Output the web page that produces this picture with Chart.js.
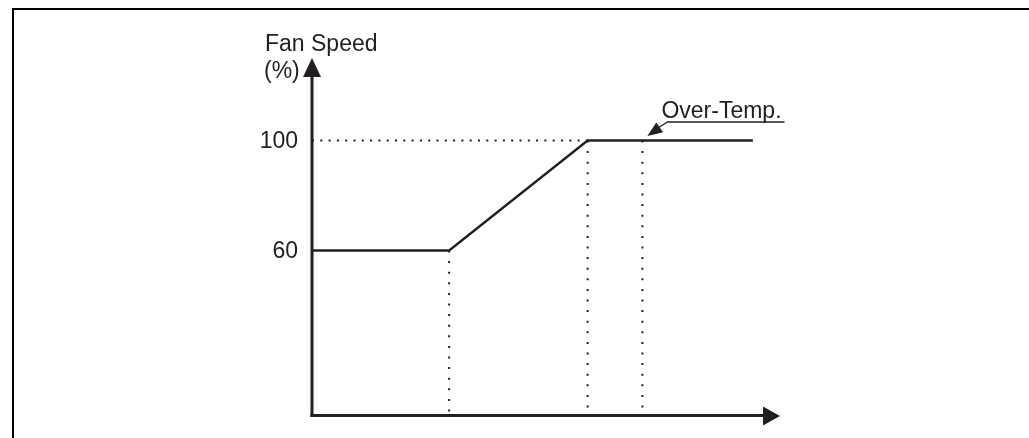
<!DOCTYPE html>
<html>
<head>
<meta charset="utf-8">
<script src="https://cdn.jsdelivr.net/npm/chart.js@4"></script>
<style>
  html, body { margin: 0; padding: 0; background: #fff; }
  #wrap { width: 1029px; height: 438px; position: relative; }
</style>
</head>
<body>
<div id="wrap"><canvas id="c" width="1029" height="438"></canvas></div>
<script>
// ---- data ----
const temps = [0, 29.3, 58.9, 94.2];          // temperature positions (abstract units)
const fanSpeed = [60, 60, 100, 100];          // fan speed %
const markerTemps = [29.3, 58.9, 70.6];       // dotted vertical markers
const markerSpeeds = [60, 100, 100];
const yTickLabels = [60, 100];
const yAxisTitle = ['Fan Speed', '(%)'];
const annotationText = 'Over-Temp.';
const annotationTemp = 70.6;
const annotationSpeed = 100;

const INK = '#231f20';
const FONT = '"Liberation Sans", Arial, sans-serif';

const datasets = [];
// dotted horizontal at 100%
datasets.push({
  data: [{x: 0, y: 100}, {x: markerTemps[1], y: 100}],
  borderColor: INK, borderWidth: 2, borderDash: [2, 6.3],
  pointRadius: 0, tension: 0, borderCapStyle: 'butt', order: 2
});
// dotted verticals
markerTemps.forEach((t, i) => {
  datasets.push({
    data: [{x: t, y: markerSpeeds[i]}, {x: t, y: 0}],
    borderColor: INK, borderWidth: 2, borderDash: [2, 8.6],
    pointRadius: 0, tension: 0, borderCapStyle: 'butt', order: 2
  });
});
// main curve
datasets.push({
  data: temps.map((t, i) => ({x: t, y: fanSpeed[i]})),
  borderColor: INK, borderWidth: 2.3, pointRadius: 0, tension: 0,
  borderJoinStyle: 'miter', order: 1
});

const decor = {
  id: 'decor',
  beforeDraw(chart) {
    const ctx = chart.ctx;
    ctx.save();
    ctx.fillStyle = '#fff';
    ctx.fillRect(0, 0, chart.width, chart.height);
    // frame (top and left edges)
    ctx.strokeStyle = '#000';
    ctx.lineWidth = 2;
    ctx.beginPath();
    ctx.moveTo(13, chart.height);
    ctx.lineTo(13, 9);
    ctx.lineTo(chart.width, 9);
    ctx.stroke();
    ctx.restore();
  },
  afterDatasetsDraw(chart) {
    const ctx = chart.ctx;
    const a = chart.chartArea;
    const xs = chart.scales.x, ys = chart.scales.y;
    const x0 = a.left, y0 = a.bottom;
    ctx.save();
    ctx.strokeStyle = INK;
    ctx.fillStyle = INK;
    ctx.lineWidth = 3;
    // y axis
    ctx.beginPath();
    ctx.moveTo(x0, y0 + 1.5);
    ctx.lineTo(x0, a.top + 18);
    ctx.stroke();
    ctx.beginPath();
    ctx.moveTo(x0, a.top);
    ctx.lineTo(x0 - 9, a.top + 19);
    ctx.lineTo(x0 + 9, a.top + 19);
    ctx.closePath();
    ctx.fill();
    // x axis
    ctx.beginPath();
    ctx.moveTo(x0 - 1.5, y0);
    ctx.lineTo(a.right - 16, y0);
    ctx.stroke();
    ctx.beginPath();
    ctx.moveTo(a.right, y0 + 0.5);
    ctx.lineTo(a.right - 17, y0 - 9);
    ctx.lineTo(a.right - 17, y0 + 10);
    ctx.closePath();
    ctx.fill();

    // tick labels
    ctx.font = '23px ' + FONT;
    ctx.textAlign = 'right';
    ctx.textBaseline = 'middle';
    yTickLabels.forEach(v => {
      ctx.fillText(String(v), x0 - 14, ys.getPixelForValue(v) + 1);
    });
    // axis title
    ctx.textAlign = 'left';
    ctx.textBaseline = 'alphabetic';
    ctx.fillText(yAxisTitle[0], x0 - 47, 51);
    ctx.fillText(yAxisTitle[1], x0 - 48, 78);

    // Over-Temp annotation
    const ax = xs.getPixelForValue(annotationTemp) + 5;
    const ay = ys.getPixelForValue(annotationSpeed) - 4.5;
    const lx = ax + 20, ly = ay - 14;
    ctx.fillText(annotationText, lx - 6, ly - 4);
    const tw = ctx.measureText(annotationText).width;
    ctx.lineWidth = 1.3;
    ctx.beginPath();
    ctx.moveTo(lx - 6 + tw + 3, ly);
    ctx.lineTo(lx, ly);
    ctx.lineTo(ax + 9, ay - 7);
    ctx.stroke();
    // arrow head
    const ang = Math.atan2(ay - ly, ax - lx);
    const len = 15, hw = 6;
    const bx = ax - len * Math.cos(ang), by = ay - len * Math.sin(ang);
    ctx.beginPath();
    ctx.moveTo(ax, ay);
    ctx.lineTo(bx + hw * Math.sin(ang), by - hw * Math.cos(ang));
    ctx.lineTo(bx - hw * Math.sin(ang), by + hw * Math.cos(ang));
    ctx.closePath();
    ctx.fill();
    ctx.restore();
  }
};

new Chart(document.getElementById('c'), {
  type: 'line',
  data: { datasets },
  options: {
    responsive: false,
    animation: false,
    layout: { padding: { left: 312, right: 249, top: 58, bottom: 22.5 } },
    plugins: { legend: { display: false }, tooltip: { enabled: false } },
    scales: {
      x: { type: 'linear', min: 0, max: 100, display: false },
      y: { type: 'linear', min: 0, max: 130, display: false }
    },
    elements: { line: { fill: false } }
  },
  plugins: [decor]
});
</script>
</body>
</html>
